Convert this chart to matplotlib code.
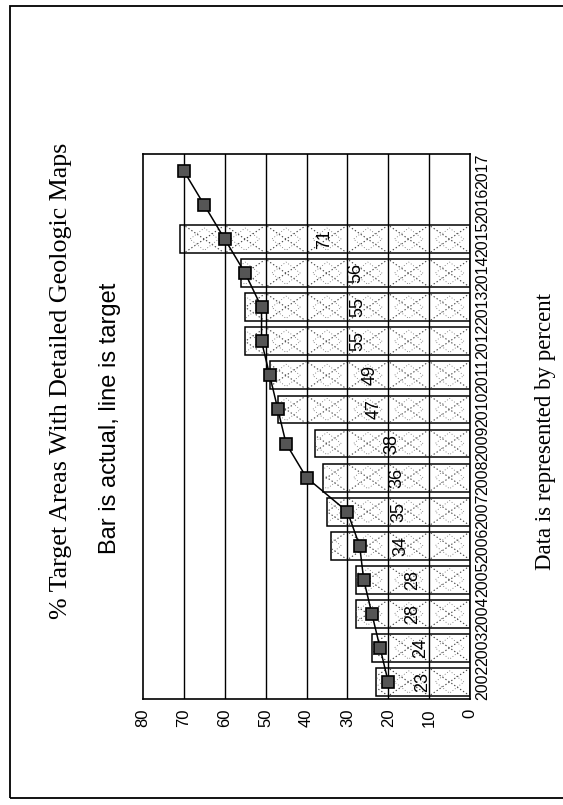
import matplotlib
matplotlib.use("Agg")
import matplotlib.pyplot as plt
import numpy as np
from matplotlib.patches import Rectangle

years = [str(y) for y in range(2002, 2018)]
actual = [23, 24, 28, 28, 34, 35, 36, 38, 47, 49, 55, 55, 56, 71]
target = [20, 22, 24, 26, 27, 30, 40, 45, 47, 49, 51, 51, 55, 60, 65, 70]
value_ticks = [0, 10, 20, 30, 40, 50, 60, 70, 80]

W, H = 563, 805
fig = plt.figure(figsize=(W / 100, H / 100), dpi=100)

# outer page border
fig.patches.append(Rectangle((10 / W, 1 - 798 / H), 600 / W, (798 - 6) / H,
                             transform=fig.transFigure, fill=False,
                             edgecolor="black", linewidth=1.3))

left, right, top, bottom = 143, 470, 154, 699
ax = fig.add_axes([left / W, 1 - bottom / H, (right - left) / W, (bottom - top) / H])

pos = np.arange(len(years))
ax.set_xlim(80, 0)
ax.set_ylim(-0.5, len(years) - 0.5)

bars = ax.barh(pos[:len(actual)], actual, height=0.82, color="white",
               edgecolor="black", linewidth=1.1, zorder=2)

# dotted X pattern in each 10-unit cell of every bar, clipped to the bar
for rect, val in zip(bars, actual):
    y0 = rect.get_y()
    h = rect.get_height()
    for c0 in range(0, int(np.ceil(val / 10.0)) * 10, 10):
        c1 = c0 + 10
        for xs, ys in (([c0, c1], [y0, y0 + h]), ([c0, c1], [y0 + h, y0])):
            ln, = ax.plot(xs, ys, color="#444444", linewidth=0.8,
                          linestyle=(0, (1.2, 2.0)), zorder=2.5)
            ln.set_clip_path(rect)
        cx = (c0 + c1) / 2.0
        cy = y0 + h / 2.0
        dx = [c0 + 1.5, cx, c1 - 1.5, cx, c0 + 1.5]
        dy = [cy, y0 + h * 0.9, cy, y0 + h * 0.1, cy]
        ln, = ax.plot(dx, dy, color="#666666", linewidth=0.6,
                      linestyle=(0, (1.0, 2.5)), zorder=2.5)
        ln.set_clip_path(rect)

# gridlines
for v in value_ticks[1:-1]:
    ax.axvline(v, color="black", linewidth=1.0, zorder=3)

# labels inside bars
for p, val in zip(pos, actual):
    ax.text(val / 2.0, p, str(val), rotation=90, ha="center", va="center",
            fontsize=13, family="Liberation Sans", zorder=4)

# target line
ax.plot(target, pos, color="black", linewidth=1.1, marker="s", markersize=9,
        markerfacecolor="#555555", markeredgecolor="black",
        markeredgewidth=1.2, zorder=5)

for s in ax.spines.values():
    s.set_linewidth(1.2)
    s.set_color("black")

ax.set_xticks(value_ticks)
ax.set_xticklabels([str(v) for v in value_ticks], rotation=90,
                   family="Liberation Sans", fontsize=12)
ax.yaxis.tick_right()
ax.set_yticks(pos)
ax.set_yticklabels(years, rotation=90, va="center",
                   family="Liberation Sans", fontsize=11.5)
ax.tick_params(axis="both", length=0)
ax.tick_params(axis="x", pad=7)
ax.tick_params(axis="y", pad=4)

fig.text(61 / W, 1 - 381 / H, "% Target Areas With Detailed Geologic Maps",
         rotation=90, ha="center", va="center", fontsize=18.7,
         family="Liberation Serif")
fig.text(110 / W, 1 - 418 / H, "Bar is actual, line is target",
         rotation=90, ha="center", va="center", fontsize=17,
         family=["Liberation Sans Narrow", "Liberation Sans"])
fig.text(545 / W, 1 - 431 / H, "Data is represented by percent",
         rotation=90, ha="center", va="center", fontsize=16.5,
         family="Liberation Serif")

fig.savefig("out.png", dpi=100, facecolor="white")
